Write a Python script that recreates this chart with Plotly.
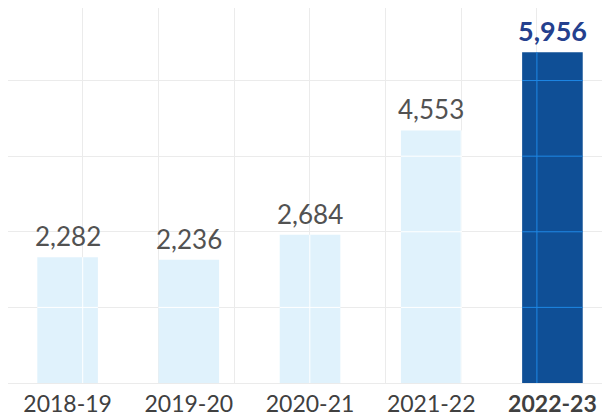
import plotly.graph_objects as go

categories = ["2018-19", "2019-20", "2020-21", "2021-22", "2022-23"]
values = [2282, 2236, 2684, 4553, 5956]
value_labels = ["2,282", "2,236", "2,684", "4,553", "<b>5,956</b>"]
tick_labels = ["2018-19", "2019-20", "2020-21", "2021-22", "<b>2022-23</b>"]

light = "#e0f2fc"
dark = "#0f4f96"
grid = "#ebebeb"
bar_colors = [light, light, light, light, dark]
over_grid = ["#ffffff", "#ffffff", "#ffffff", "#ffffff", "#1e88e5"]
label_colors = ["#525252"] * 4 + ["#24408e"]
label_sizes = [26, 26, 26, 26, 27]

x_range = [-0.4918, 4.475]
y_min, y_step = 27, 1355
y_range = [y_min, 6747]
x2_range = [0.0132, 7.9656]
bar_w = 0.5

fig = go.Figure()
fig.add_trace(go.Bar(
    x=list(range(len(categories))), y=values, width=bar_w,
    marker=dict(color=bar_colors, line=dict(width=0)),
    hoverinfo="skip",
))
# helper invisible trace to register the vertical-grid axis
fig.add_trace(go.Scatter(x=[1], y=[y_min + 100], xaxis="x2", yaxis="y", mode="markers",
                         marker=dict(opacity=0), hoverinfo="skip", showlegend=False))

shapes = []
# horizontal gridlines drawn over bars
for i, v in enumerate(values):
    k = 1
    while y_min + k * y_step < v:
        gy = y_min + k * y_step
        shapes.append(dict(type="line", xref="x", yref="y", x0=i - bar_w / 2, x1=i + bar_w / 2,
                           y0=gy, y1=gy, line=dict(color=over_grid[i], width=1), layer="above"))
        k += 1
# vertical gridlines drawn over bars
for kx in range(1, 8):
    c = x_range[0] + (kx - x2_range[0]) / (x2_range[1] - x2_range[0]) * (x_range[1] - x_range[0])
    for i, v in enumerate(values):
        if i - bar_w / 2 < c < i + bar_w / 2:
            shapes.append(dict(type="line", xref="x2", yref="y", x0=kx, x1=kx,
                               y0=y_min, y1=v, line=dict(color=over_grid[i], width=1), layer="above"))

annotations = []
for i, (v, t) in enumerate(zip(values, value_labels)):
    annotations.append(dict(x=i, y=v, xref="x", yref="y", text=t, showarrow=False,
                            yanchor="bottom", xanchor="center", yshift=3,
                            font=dict(family="Lato", size=label_sizes[i], color=label_colors[i])))

fig.update_layout(
    width=602, height=410,
    margin=dict(l=0, r=0, t=0, b=35),
    paper_bgcolor="white", plot_bgcolor="white",
    showlegend=False,
    font=dict(family="Lato", color="#3c3c3c"),
    xaxis=dict(range=x_range, tickmode="array", tickvals=list(range(len(categories))),
               ticktext=tick_labels, showgrid=False, zeroline=False,
               showline=True, linecolor=grid, linewidth=1, mirror=True,
               ticks="", tickfont=dict(family="Lato", size=23, color="#404040"),
               automargin=False),
    xaxis2=dict(overlaying="x", range=x2_range, showgrid=True, gridcolor=grid, gridwidth=1,
                dtick=1, tick0=0, showticklabels=False, zeroline=False, ticks="", side="bottom",
                automargin=False),
    yaxis=dict(range=y_range, tick0=y_min, dtick=y_step, showgrid=True, gridcolor=grid,
               gridwidth=1, showticklabels=False, zeroline=False, ticks="",
               showline=True, linecolor=grid, linewidth=1, mirror=True, automargin=False),
    shapes=shapes,
    annotations=annotations,
)

fig.write_html("out.html")
